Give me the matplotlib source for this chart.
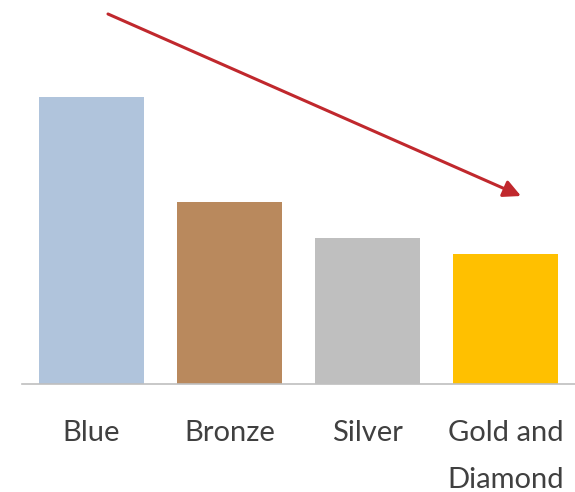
import matplotlib.pyplot as plt

# Data (bar heights, arbitrary units)
categories = ['Blue', 'Bronze', 'Silver', 'Gold and\nDiamond']
values     = [287, 182, 146, 130]
colors     = ['#B0C4DC', '#B9895D', '#BFBFBF', '#FFC000']

W, H = 575, 492

fig = plt.figure(figsize=(W / 100, H / 100), dpi=100)
ax = fig.add_axes([22 / W, (H - 384) / H, 553 / W, 384 / H])

x = range(len(categories))
ax.bar(x, values, width=0.76, color=colors, zorder=2)

ax.set_xlim(-0.5, 3.5)
ax.set_ylim(0, 384)
ax.set_xticks(list(x))
ax.set_xticklabels(categories, fontsize=21, color='#404040',
                   family='Lato', linespacing=2.0, va='top')
ax.tick_params(axis='x', length=0, pad=26)
ax.set_yticks([])

for side in ['top', 'right', 'left']:
    ax.spines[side].set_visible(False)
ax.spines['bottom'].set_color('#BFBFBF')
ax.spines['bottom'].set_linewidth(1.2)

# downward trend arrow
ax.annotate('', xy=(521 / W, 1 - 196 / H), xytext=(108 / W, 1 - 14 / H),
            xycoords='figure fraction', textcoords='figure fraction',
            arrowprops=dict(arrowstyle='-|>', color='#C0282D', lw=2.2,
                            mutation_scale=26, shrinkA=0, shrinkB=0))

fig.savefig('out.png', dpi=100)
